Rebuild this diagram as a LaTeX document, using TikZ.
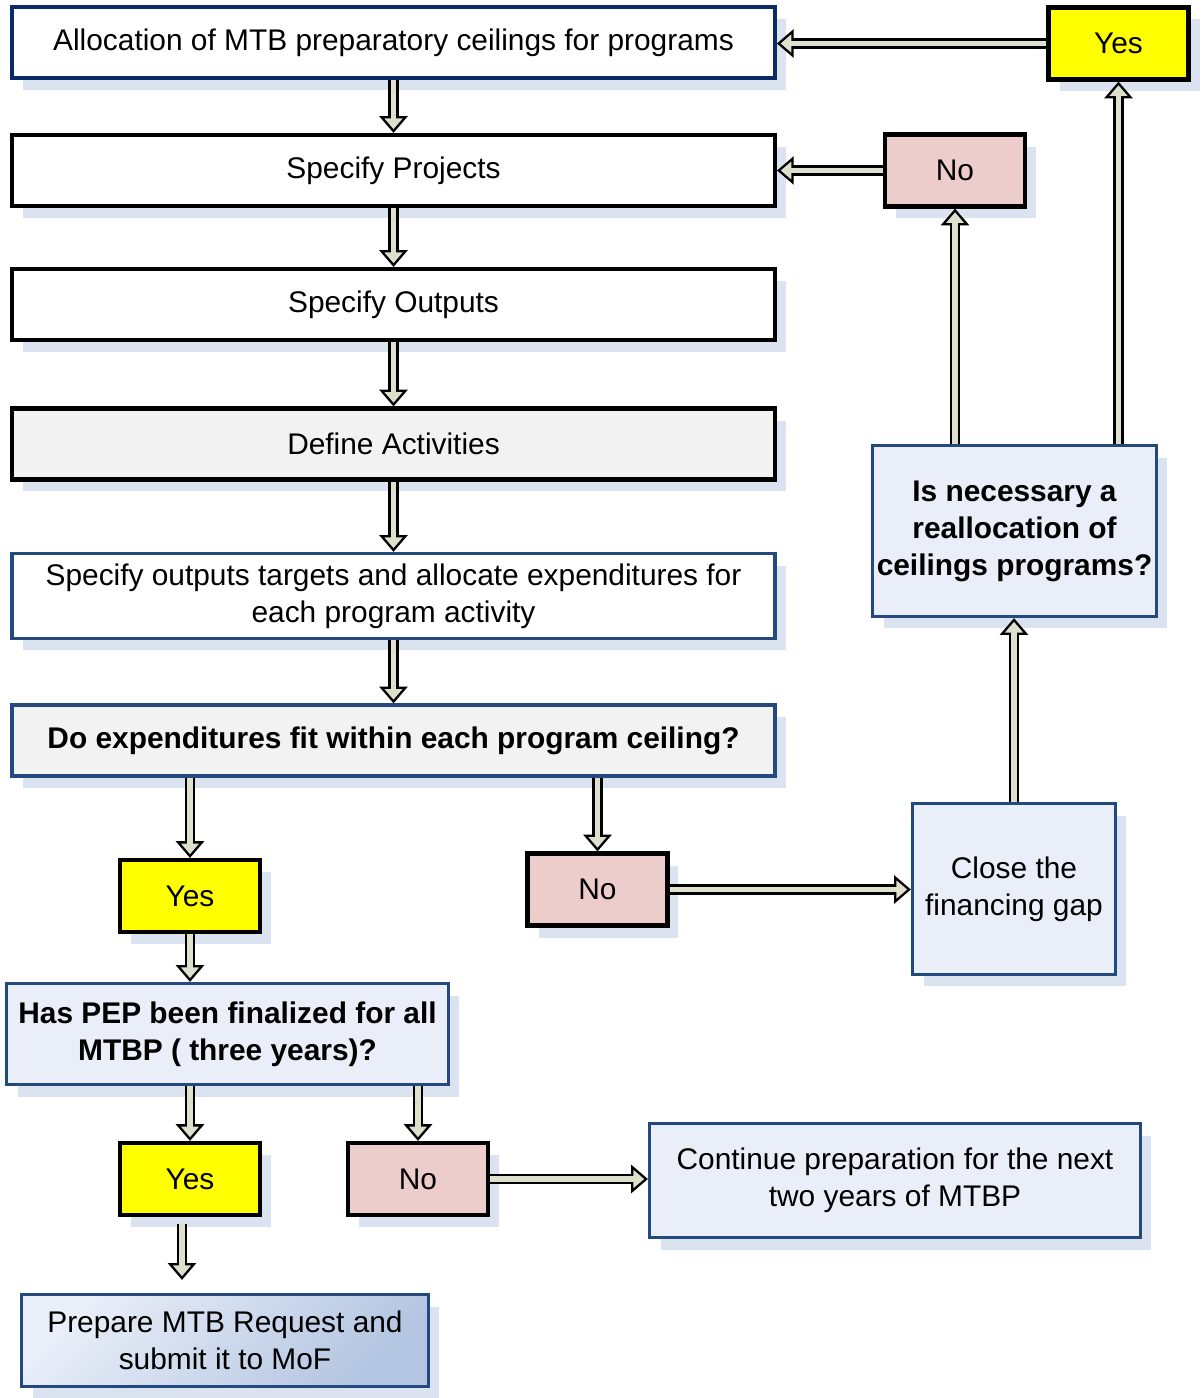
\documentclass[tikz,border=0pt]{standalone}
\usepackage{fontspec}
\setmainfont{Liberation Sans}
\usetikzlibrary{arrows.meta, shadows, calc}
\definecolor{edgeblue}{HTML}{24497F}
\definecolor{edgenavy}{HTML}{0C2A66}
\definecolor{shadowcol}{HTML}{DBE3F1}
\definecolor{yescol}{HTML}{FFFF00}
\definecolor{nocol}{HTML}{EDCDCC}
\definecolor{palecol}{HTML}{E9EEF8}
\definecolor{greycol}{HTML}{F2F2F2}
\definecolor{shaftcol}{HTML}{DCE0CC}
\definecolor{deepcol}{HTML}{B3C5E1}

\begin{document}
\begin{tikzpicture}[
    x=0.02cm, y=-0.02cm,
    txt/.style={font=\fontsize{17}{21}\selectfont, align=center, inner sep=2pt,
                drop shadow={shadow xshift=0.22cm, shadow yshift=-0.24cm,
                             fill=shadowcol, opacity=1}},
    boldtxt/.style={txt, font=\fontsize{17}{21}\selectfont\bfseries},
    blackbox/.style={draw=black, line width=2.4pt},
    bluebox/.style={draw=edgeblue, line width=1.9pt},
    wide/.style={minimum width=15.26cm, minimum height=1.42cm},
    small/.style={blackbox, minimum width=2.8cm, minimum height=1.44cm},
    yesbox/.style={txt, small, fill=yescol},
    nobox/.style={txt, small, fill=nocol},
    flow/.style={draw=black, line width=6.2pt,
                 -{Triangle[length=9.5pt, width=16pt, line width=1.3pt, fill=shaftcol]},
                 postaction={draw=shaftcol, line width=3pt, -, shorten >=6.5pt}}
  ]
  \useasboundingbox (0,0) rectangle (1203,1398);

  % ---- main column ----
  \node[txt, wide, draw=edgenavy, line width=2.2pt, fill=white] (alloc) at (393.5,42.5)
    {Allocation of MTB preparatory ceilings for programs};
  \node[txt, wide, blackbox, fill=white] (proj) at (393.5,170.5) {Specify Projects};
  \node[txt, wide, blackbox, fill=white] (outp) at (393.5,304.5) {Specify Outputs};
  \node[txt, wide, blackbox, fill=greycol] (defact) at (393.5,444) {Define Activities};
  \node[txt, wide, bluebox, fill=white, minimum height=1.7cm] (targets) at (393.5,596)
    {Specify outputs targets and allocate expenditures for\\each program activity};
  \node[boldtxt, wide, bluebox, fill=greycol] (fit) at (393.5,740.5)
    {Do expenditures fit within each program ceiling?};

  % ---- answers to the ceiling question ----
  \node[yesbox] (yes1) at (190,896) {Yes};
  \node[nobox] (no1) at (597.5,889.5) {No};
  \node[txt, bluebox, fill=palecol, minimum width=4.06cm, minimum height=3.42cm]
    (close) at (1014,889) {Close the\\financing gap};
  \node[boldtxt, bluebox, fill=palecol, minimum width=5.68cm, minimum height=3.42cm]
    (isnec) at (1014.5,531) {Is necessary a\\reallocation of\\ceilings programs?};
  \node[nobox] (notop) at (955,170.5) {No};
  \node[yesbox] (yestop) at (1118.5,43.5) {Yes};

  % ---- PEP question ----
  \node[boldtxt, bluebox, fill=palecol, minimum width=8.84cm, minimum height=2.02cm]
    (pep) at (227.5,1034) {Has PEP been finalized for all\\MTBP ( three years)?};
  \node[yesbox] (yes2) at (190,1179) {Yes};
  \node[nobox] (no2) at (418,1179) {No};
  \node[txt, bluebox, fill=palecol, minimum width=9.82cm, minimum height=2.28cm]
    (cont) at (895,1180.5) {Continue preparation for the next\\two years of MTBP};
  \node[txt, bluebox, top color=palecol, bottom color=deepcol, shading angle=45,
        minimum width=8.14cm, minimum height=1.84cm]
    (prep) at (225,1340.5) {Prepare MTB Request and\\submit it to MoF};

  % ---- connectors ----
  \draw[flow] (alloc) -- (proj);
  \draw[flow] (proj) -- (outp);
  \draw[flow] (outp) -- (defact);
  \draw[flow] (defact) -- (targets);
  \draw[flow] (targets) -- (fit);
  \draw[flow] (fit.south -| yes1) -- (yes1.north);
  \draw[flow] (fit.south -| no1) -- (no1.north);
  \draw[flow] (no1.east) -- (no1.east -| close.west);
  \draw[flow] (close.north) -- (close.north |- isnec.south);
  \draw[flow] (isnec.north -| notop) -- (notop.south);
  \draw[flow] (isnec.north -| yestop) -- (yestop.south);
  \draw[flow] (notop.west) -- (notop.west -| proj.east);
  \draw[flow] (yestop.west) -- (yestop.west -| alloc.east);
  \draw[flow] (yes1.south) -- (yes1.south |- pep.north);
  \draw[flow] (pep.south -| yes2) -- (yes2.north);
  \draw[flow] (pep.south -| no2) -- (no2.north);
  \draw[flow] (no2.east) -- (no2.east -| cont.west);
  \coordinate (yes2foot) at ($(yes2.south)+(-8,7)$);
  \draw[flow] (yes2foot) -- ($(yes2foot |- prep.north)+(0,-13)$);

\end{tikzpicture}
\end{document}
